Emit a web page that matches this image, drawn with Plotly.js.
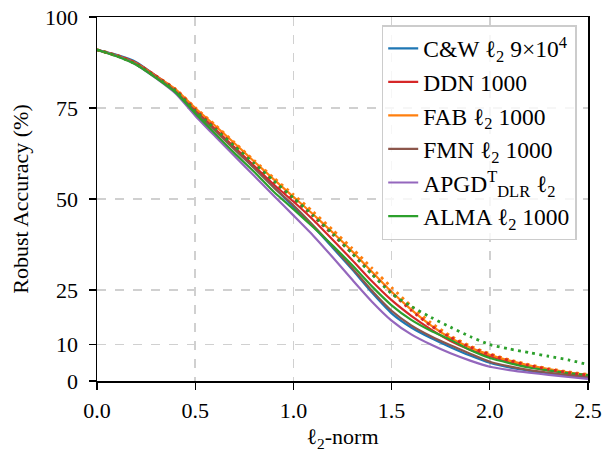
<!DOCTYPE html>
<html>
<head>
<meta charset="utf-8">
<script src="https://cdn.plot.ly/plotly-3.0.1.min.js"></script>
<style>html,body{margin:0;padding:0;background:#fff;}#chart{width:604px;height:452px;}</style>
</head>
<body>
<div id="chart"></div>
<script>
const norms = [0.0,0.1,0.2,0.3,0.4,0.5,0.6,0.7,0.8,0.9,1.0,1.1,1.2,1.3,1.4,1.5,1.6,1.7,1.8,1.9,2.0,2.1,2.2,2.3,2.4,2.5];
const cw    = [91.0,89.6,87.6,83.8,79.6,74.2,69.0,63.8,58.6,53.3,47.8,42.5,36.6,30.6,24.3,18.6,14.7,11.8,9.3,7.0,5.0,3.7,2.8,2.1,1.4,0.9];
const ddn   = [91.0,89.5,87.4,83.9,80.0,74.5,69.3,64.2,59.1,54.0,49.3,44.3,38.8,33.2,27.4,22.2,17.9,14.2,11.0,8.6,6.8,5.2,3.9,2.9,2.1,1.5];
const fab   = [91.0,89.4,87.2,83.7,80.1,75.0,70.2,65.3,60.3,55.4,50.6,45.8,40.8,35.6,30.0,24.5,19.6,15.3,11.8,9.2,7.2,5.6,4.3,3.3,2.4,1.7];
const fmn   = [91.0,89.4,87.1,83.5,79.6,74.0,68.8,63.6,58.5,53.2,48.3,42.8,37.0,31.0,24.8,19.3,15.3,12.3,9.8,7.5,5.3,4.0,3.0,2.3,1.6,1.1];
const apgd  = [91.0,89.3,86.9,83.2,79.0,72.9,67.3,61.8,56.4,50.9,45.5,40.0,34.0,27.8,21.8,16.6,12.8,10.0,7.6,5.6,3.9,3.0,2.3,1.7,1.1,0.6];
const alma  = [91.0,89.2,86.9,83.3,79.3,73.5,68.0,62.6,57.5,52.0,47.2,42.3,37.2,31.8,26.0,20.8,16.8,13.8,11.3,8.5,6.3,4.9,3.7,2.9,2.2,1.6];
const fabDot  = [91.0,89.4,87.2,83.8,80.2,75.1,70.4,65.5,60.6,55.8,51.2,46.5,41.5,36.4,31.0,25.7,20.6,16.0,12.4,9.6,7.5,5.8,4.5,3.4,2.5,1.8];
const ddnDot  = [91.0,89.5,87.3,83.8,80.0,74.6,69.6,64.6,59.6,54.7,50.0,45.3,40.2,35.0,29.5,24.2,19.4,15.2,12.0,9.3,7.3,5.6,4.3,3.2,2.3,1.6];
const almaDot = [91.0,89.3,87.0,83.5,79.7,74.3,69.3,64.5,59.8,55.0,50.3,45.5,40.5,35.0,29.3,24.0,20.5,17.5,14.8,12.2,10.0,8.8,7.8,6.8,5.8,4.5];

const names = ['C&W ℓ<sub>2</sub> 9×10<sup>4</sup>','DDN 1000','FAB ℓ<sub>2</sub> 1000','FMN ℓ<sub>2</sub> 1000','APGD<sup>T</sup><sub>DLR</sub> ℓ<sub>2</sub>','ALMA ℓ<sub>2</sub> 1000'];
const yTicks = [0,10,25,50,75,100];
const xTicks = [0.0,0.5,1.0,1.5,2.0,2.5];

const colors = ['#1f77b4','#d62728','#ff7f0e','#8c564b','#9467bd','#2ca02c'];
const solid = [cw,ddn,fab,fmn,apgd,alma];
const traces = solid.map((ys,i)=>({x:norms,y:ys,type:'scatter',mode:'lines',name:names[i],
  legendgroup:'g'+i,line:{color:colors[i],width:2.2,shape:'spline',smoothing:0.6}}));
[[fabDot,'#ff7f0e'],[ddnDot,'#d62728'],[almaDot,'#2ca02c']].forEach(([ys,c])=>{
  traces.push({x:norms,y:ys,type:'scatter',mode:'lines',showlegend:false,
    line:{color:c,width:2.8,dash:'2.8px,4.4px',shape:'spline',smoothing:0.6}});
});

const font = {family:'Liberation Serif, DejaVu Serif, serif',size:22,color:'#000'};
const layout = {
  width:604,height:452,
  margin:{l:97,r:16,t:17,b:71},
  paper_bgcolor:'#fff',plot_bgcolor:'#fff',
  font:font,
  showlegend:true,
  legend:{x:0.977,xanchor:'right',y:0.978,yanchor:'top',bgcolor:'rgba(255,255,255,0.8)',
    bordercolor:'#cccccc',borderwidth:1.5,font:{family:font.family,size:23.5,color:'#000'},tracegroupgap:0},
  xaxis:{range:[0,2.5],tickvals:xTicks,ticktext:xTicks.map(v=>v.toFixed(1)),
    showline:true,linecolor:'#000',linewidth:1.5,mirror:true,ticks:'outside',ticklen:7,tickwidth:1.2,tickcolor:'#000',
    showgrid:true,gridcolor:'#d0d0d0',gridwidth:1.5,griddash:'dash',zeroline:false,ticklabelstandoff:2,
    title:{text:'ℓ<sub>2</sub>-norm',font:font,standoff:8}},
  yaxis:{range:[0,100],tickvals:yTicks,
    showline:true,linecolor:'#000',linewidth:1.5,mirror:true,ticks:'outside',ticklen:7,tickwidth:1.2,tickcolor:'#000',
    showgrid:true,gridcolor:'#d0d0d0',gridwidth:1.5,griddash:'dash',zeroline:false,ticklabelstandoff:6,
    title:{text:'Robust Accuracy (%)',font:font,standoff:10}}
};
Plotly.newPlot('chart',traces,layout,{staticPlot:true,displayModeBar:false});
</script>
</body>
</html>
